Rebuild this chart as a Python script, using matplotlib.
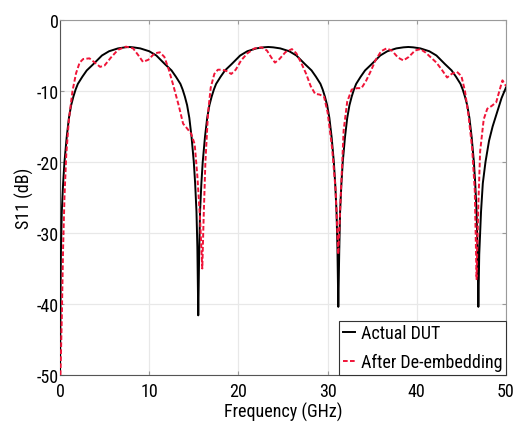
import matplotlib
matplotlib.use("Agg")
import matplotlib.pyplot as plt
from matplotlib import font_manager

# ---- data ----
freq_dut = [0, 0.1, 0.2, 0.35, 0.5, 0.75, 1.0, 1.25, 1.5, 1.75, 2.0, 2.5, 3.0, 3.75, 4.7, 5.5, 6.5, 7.3, 7.75,
            8.2, 9.0, 10.0, 10.8, 11.75, 12.5, 13.0, 13.5, 13.75, 14.0, 14.25, 14.5, 14.75, 15.0, 15.15, 15.3, 15.4, 15.5,
            15.6, 15.7, 15.85, 16.0, 16.25, 16.5, 16.75, 17.0, 17.25, 17.5, 18.0, 18.5, 19.25, 20.2, 21.0, 22.0, 22.8, 23.35,
            23.9, 24.7, 25.7, 26.5, 27.45, 28.2, 28.7, 29.2, 29.45, 29.7, 29.95, 30.2, 30.45, 30.7, 30.85, 31.0, 31.1, 31.2,
            31.3, 31.4, 31.55, 31.7, 31.95, 32.2, 32.45, 32.7, 32.95, 33.2, 33.7, 34.2, 34.95, 35.9, 36.7, 37.7, 38.5, 39.05,
            39.6, 40.4, 41.4, 42.2, 43.15, 43.9, 44.4, 44.9, 45.15, 45.4, 45.65, 45.9, 46.15, 46.4, 46.55, 46.7, 46.8, 46.9,
            47.0, 47.2, 47.4, 47.7, 48.1, 48.5, 49.0, 49.5, 50.0]
s11_dut = [-50, -33, -27, -23, -20, -16.5, -13.8, -12.0, -10.8, -9.8, -9.0, -8.0, -7.1, -6.2, -5.0, -4.4, -4.0, -3.85, -3.8,
           -3.85, -4.0, -4.4, -5.0, -6.2, -7.1, -8.0, -9.0, -9.8, -10.8, -12.0, -13.8, -16.5, -20, -23, -27, -32, -41.6,
           -33, -27, -23, -20, -16.5, -13.8, -12.0, -10.8, -9.8, -9.0, -8.0, -7.1, -6.2, -5.0, -4.4, -4.0, -3.85, -3.8,
           -3.85, -4.0, -4.4, -5.0, -6.2, -7.1, -8.0, -9.0, -9.8, -10.8, -12.0, -13.8, -16.5, -20, -23, -27, -32, -40.4,
           -33, -27, -23, -20, -16.5, -13.8, -12.0, -10.8, -9.8, -9.0, -8.0, -7.1, -6.2, -5.0, -4.4, -4.0, -3.85, -3.8,
           -3.85, -4.0, -4.4, -5.0, -6.2, -7.1, -8.0, -9.0, -9.8, -10.8, -12.0, -13.8, -16.5, -20, -23, -27, -32, -40.4,
           -33, -27, -23, -20, -17, -15, -13, -11, -9.5]

freq_deemb = [0.05, 0.2, 0.35, 0.5, 0.7, 1.0, 1.4, 1.8, 2.2, 2.6, 3.3, 3.8, 4.5, 5.0, 5.7, 6.5, 7.4,
              8.2, 8.8, 9.3, 9.9, 10.6, 11.2, 11.7, 12.2, 12.7, 13.3, 13.8, 14.2, 14.7, 15.1, 15.4, 15.7,
              15.95, 16.1, 16.3, 16.6, 16.9, 17.3, 17.7, 18.2, 18.7, 19.2, 19.7, 20.3, 21.0, 21.8, 22.6,
              23.2, 23.7, 24.1, 24.6, 25.3, 26.0, 26.5, 27.1, 27.6, 28.1, 28.6, 29.1, 29.6, 30.0, 30.5,
              30.9, 31.2, 31.5, 31.8, 32.2, 32.7, 33.3, 33.8, 34.3, 34.8, 35.4, 36.0, 36.6, 37.2, 37.9,
              38.5, 39.1, 39.8, 40.4, 41.0, 41.6, 42.2, 42.8, 43.4, 43.9, 44.5, 45.0, 45.4, 45.8, 46.2,
              46.5, 46.7, 46.9, 47.1, 47.5, 47.9, 48.4, 48.9, 49.3, 49.6, 50.0]
s11_deemb = [-50, -42, -32, -25, -19, -14, -10, -7.5, -6.0, -5.5, -5.4, -5.9, -6.6, -6.4, -5.3, -4.2, -3.75,
             -4.0, -5.0, -5.9, -5.6, -4.7, -4.55, -5.2, -7.0, -9.2, -12, -14.6, -15.2, -16, -17.5, -22, -28,
             -35, -28, -20, -13, -9.5, -7.6, -7.0, -7.0, -7.2, -7.6, -7.0, -5.7, -4.7, -4.0, -3.85,
             -4.3, -5.3, -6.0, -5.5, -4.5, -4.1, -4.7, -6.2, -7.6, -9.3, -10.4, -10.5, -10.8, -13, -18,
             -24, -33, -24, -15.5, -11.5, -9.8, -9.6, -9.6, -8.6, -7.3, -5.6, -4.4, -4.0, -4.3, -5.3,
             -5.7, -5.2, -4.3, -4.1, -4.6, -5.3, -6.0, -7.0, -8.1, -7.6, -7.3, -7.9, -10, -13.5, -18,
             -24, -36.5, -26, -18.5, -14, -12.5, -12.1, -11.6, -9.8, -8.5, -9.3]

series_labels = ["Actual DUT", "After De-embedding"]
x_ticks = [0, 10, 20, 30, 40, 50]
y_ticks = [0, -10, -20, -30, -40, -50]

# ---- font ----
names = {f.name for f in font_manager.fontManager.ttflist}
fams = [f for f in ["Roboto Condensed", "Archivo Narrow", "Liberation Sans"] if f in names]
plt.rcParams["font.family"] = fams + ["DejaVu Sans"]
plt.rcParams["font.size"] = 13
plt.rcParams["axes.unicode_minus"] = False

fig = plt.figure(figsize=(5.13, 4.27), dpi=100)
ax = fig.add_axes([60/513, 1-376/427, 446/513, 355/427])

ax.plot(freq_dut, s11_dut, color="black", lw=1.4, label=series_labels[0], zorder=3)
ax.plot(freq_deemb, s11_deemb, color="#f01438", lw=1.4, ls=(0, (2.4, 1.2)),
        label=series_labels[1], zorder=4)

ax.set_xlim(0, 50)
ax.set_ylim(-50, 0)
ax.set_xticks(x_ticks)
ax.set_yticks(y_ticks)
ax.grid(True, color="#e8e8e8", lw=0.9)
ax.set_axisbelow(True)
ax.tick_params(axis="x", direction="in", top=True, length=3, color="#999999", pad=5)
ax.tick_params(axis="y", direction="in", right=True, length=3, color="#999999", pad=1)
for side in ["top", "right"]:
    ax.spines[side].set_color("#9a9a9a")
for side in ["left", "bottom"]:
    ax.spines[side].set_color("#555555")

ax.set_xlabel("Frequency (GHz)", labelpad=1)
ax.set_ylabel("S11 (dB)", labelpad=2)

leg = ax.legend(loc="lower right", borderaxespad=0, fancybox=False, framealpha=1,
                edgecolor="#333333", handlelength=0.7, handletextpad=0.3,
                borderpad=0.2, labelspacing=0.6)
leg.get_frame().set_linewidth(0.8)

fig.savefig("out.png", dpi=100)
